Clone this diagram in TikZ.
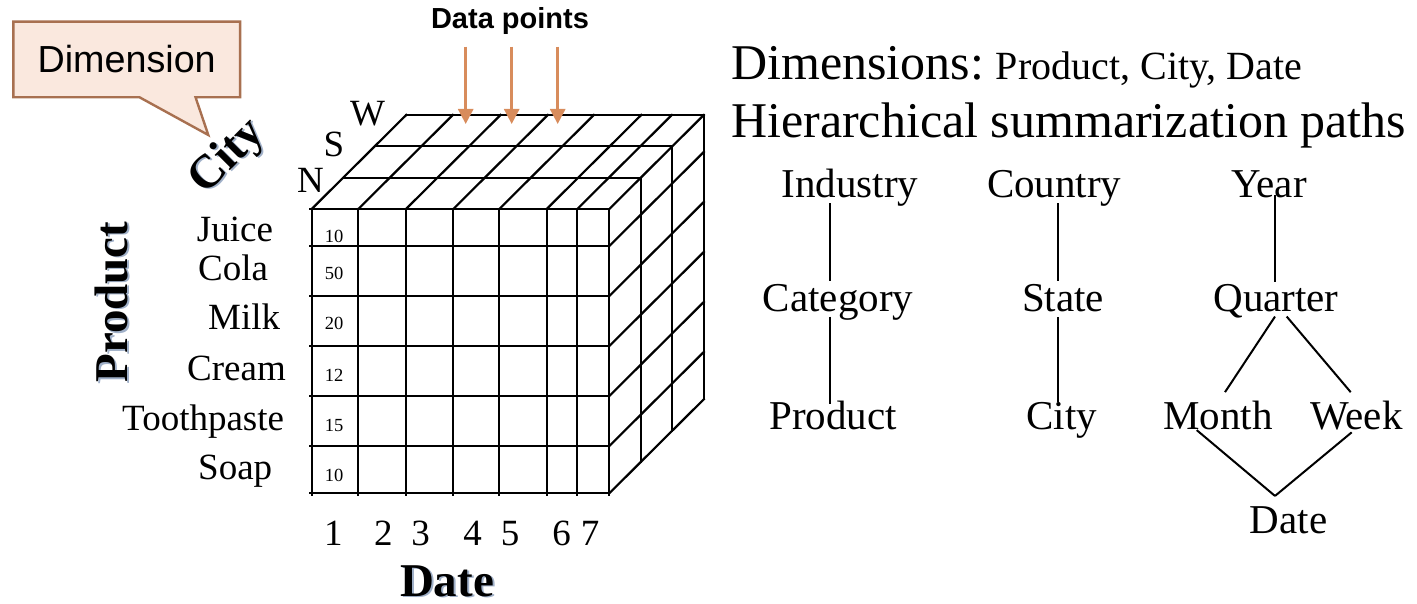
\documentclass[tikz,border=0pt]{standalone}
\usepackage{fontspec}
\setmainfont{Liberation Serif}
\newfontfamily\sansfont{Liberation Sans}
\usetikzlibrary{arrows.meta,shapes.callouts,calc}

\definecolor{calloutfill}{RGB}{250,232,222}
\definecolor{calloutline}{RGB}{168,112,80}
\definecolor{arrowclr}{RGB}{216,140,92}
\definecolor{shadowclr}{RGB}{160,176,200}

\begin{document}
\begin{tikzpicture}[x=1pt,y=-1pt,
  cubeline/.style={line width=2.2pt, line cap=rect, black},
  lbl/.style={inner sep=0pt, anchor=base, font=\fontsize{37}{37}\selectfont},
  lblw/.style={inner sep=0pt, anchor=base west, font=\fontsize{37}{37}\selectfont},
  cellnum/.style={inner sep=0pt, font=\fontsize{18.5}{18.5}\selectfont},
  axislbl/.style={inner sep=0pt, font=\bfseries\fontsize{47}{47}\selectfont},
  tree/.style={inner sep=0pt, anchor=base, font=\fontsize{41}{41}\selectfont},
  treeline/.style={line width=2pt, black},
  datarrow/.style={arrowclr, line width=2.7pt, -{Triangle[width=15pt,length=15pt]}}]
\useasboundingbox (0,0) rectangle (1417,604);

% ---------- callout ----------
\node[rectangle callout, draw=calloutline, fill=calloutfill, line width=2.4pt,
      minimum width=226.7pt, minimum height=75.6pt, inner sep=0pt,
      callout absolute pointer={(208.3,135)}, callout pointer width=56pt,
      font=\sansfont\fontsize{37.7}{37.7}\selectfont] (dim) at (126.7,59.5) {Dimension};

% ---------- data cube ----------
% front face
\foreach \x in {311.7,358.3,406,453.3,499.3,546.7,577.3,609.3}
  \draw[cubeline] (\x,209) -- (\x,495);
\foreach \y in {209,246,296,346,396,446,493.3}
  \draw[cubeline] (310,\y) -- (609.3,\y);
% top face
\foreach \x in {311.7,358.3,406,453.3,499.3,546.7,577.3,609.3}
  \draw[cubeline] (\x,209) -- ++(94.5,-94);
\foreach \k in {1,2,3}
  \draw[cubeline] ({311.7+\k*31.5},{209-\k*31.33}) -- ++(297.6,0);
% right face
\foreach \y in {246,296,346,396,446,493.3}
  \draw[cubeline] (609.3,\y) -- ++(94.5,-94);
\foreach \k in {1,2,3}
  \draw[cubeline] ({609.3+\k*31.5},{209-\k*31.33}) -- ++(0,284.3);

% cell values
\node[cellnum] (v1) at (334,236) {10};
\node[cellnum] (v2) at (334,273.5) {50};
\node[cellnum] (v3) at (334,323.5) {20};
\node[cellnum] (v4) at (334,375) {12};
\node[cellnum] (v5) at (334,425.5) {15};
\node[cellnum] (v6) at (334,475.5) {10};

% city members
\node[inner sep=0pt, font=\fontsize{37}{37}\selectfont] (cn) at (310.5,180.5) {N};
\node[inner sep=0pt, font=\fontsize{37}{37}\selectfont] (cs) at (334,144.5) {S};
\node[inner sep=0pt, font=\fontsize{37}{37}\selectfont] (cw) at (367.5,113.5) {W};

% product members
\node[lblw] (pjuice) at (196.7,241.7) {Juice};
\node[lblw] (pcola) at (198,280) {Cola};
\node[lblw] (pmilk) at (208,329) {Milk};
\node[lblw] (pcream) at (187,380) {Cream};
\node[lblw] (ptooth) at (122,430) {Toothpaste};
\node[lblw] (psoap) at (198,479) {Soap};

% dates
\node[lbl] (d1) at (333.3,545) {1};
\node[lbl] (d2) at (383.3,545) {2};
\node[lbl] (d3) at (420.7,545) {3};
\node[lbl] (d4) at (472.7,545) {4};
\node[lbl] (d5) at (510,545) {5};
\node[lbl] (d6) at (561.7,545) {6};
\node[lbl] (d7) at (590,545) {7};

% axis titles with a soft shadow
\node[axislbl, shadowclr, rotate=90] (prodsh) at (113,303.5) {Product};
\node[axislbl, rotate=90] (prod) at (111,302) {Product};
\node[axislbl, shadowclr, rotate=45] (citysh) at (230,158.5) {City};
\node[axislbl, rotate=45] (city) at (228,157) {City};
\node[axislbl, shadowclr, anchor=base] (datesh) at (449,597.5) {Date};
\node[axislbl, anchor=base] (date) at (447,596) {Date};

% data points
\node[inner sep=0pt, anchor=base, font=\sansfont\bfseries\fontsize{29}{29}\selectfont] (dp) at (510,28.5) {Data points};
\coordinate (a1s) at (465.7,46.7); \coordinate (a1e) at (465.7,124);
\coordinate (a2s) at (511.7,46.7); \coordinate (a2e) at (511.7,124);
\coordinate (a3s) at (557.7,46.7); \coordinate (a3e) at (557.7,124);
\draw[datarrow] (a1s) -- (a1e);
\draw[datarrow] (a2s) -- (a2e);
\draw[datarrow] (a3s) -- (a3e);

% ---------- right side text ----------
\node[inner sep=0pt, anchor=base west] (dims) at (731,80)
  {{\fontsize{50}{50}\selectfont Dimensions:}\hspace{12pt}{\fontsize{40}{40}\selectfont Product, City, Date}};
\node[inner sep=0pt, anchor=base west, font=\fontsize{50}{50}\selectfont] (hier) at (731,138)
  {Hierarchical summarization paths};

% ---------- hierarchies ----------
\node[tree] (ind) at (850,197.3) {Industry};
\node[tree] (cat) at (838,311.7) {Category};
\node[tree] (prd) at (833,429.5) {Product};
\node[tree] (ctry) at (1054.2,197.3) {Country};
\node[tree] (st) at (1063,311.7) {State};
\node[tree] (cty) at (1061.7,429.5) {City};
\node[tree] (yr) at (1269,197.3) {Year};
\node[tree] (qtr) at (1276,311.7) {Quarter};
\node[tree] (mon) at (1218,429.5) {Month};
\node[tree] (wk) at (1356.5,429.5) {Week};
\node[tree] (dt) at (1288.5,533) {Date};

\coordinate (indx) at (830,0);
\coordinate (ctryx) at (1058.3,0);
\coordinate (yrx) at (1275,0);

\draw[treeline] ([yshift=3pt]ind.south -| indx) -- ([yshift=3pt]cat.north -| indx);
\draw[treeline] ([yshift=4pt]cat.south -| indx) -- ([yshift=-3pt]prd.north -| indx);
\draw[treeline] ([yshift=3pt]ctry.south -| ctryx) -- ([yshift=3pt]st.north -| ctryx);
\draw[treeline] ([yshift=-5pt]st.south -| ctryx) -- ([yshift=0pt]cty.north -| ctryx);
\draw[treeline] ([yshift=3pt]yr.south -| yrx) -- ([yshift=2pt]qtr.north -| yrx);
\draw[treeline] ([xshift=-1pt,yshift=2pt]qtr.south) -- ([xshift=7pt,yshift=8.7pt]mon.north);
\draw[treeline] ([xshift=10.7pt,yshift=2pt]qtr.south) -- ([xshift=-5.8pt,yshift=8.7pt]wk.north);
\draw[treeline] ([xshift=-21.3pt]mon.south) -- ([xshift=-13.5pt,yshift=10pt]dt.north);
\draw[treeline] ([xshift=-4.8pt,yshift=-2pt]wk.south) -- ([xshift=-13.5pt,yshift=10pt]dt.north);
\end{tikzpicture}
\end{document}
